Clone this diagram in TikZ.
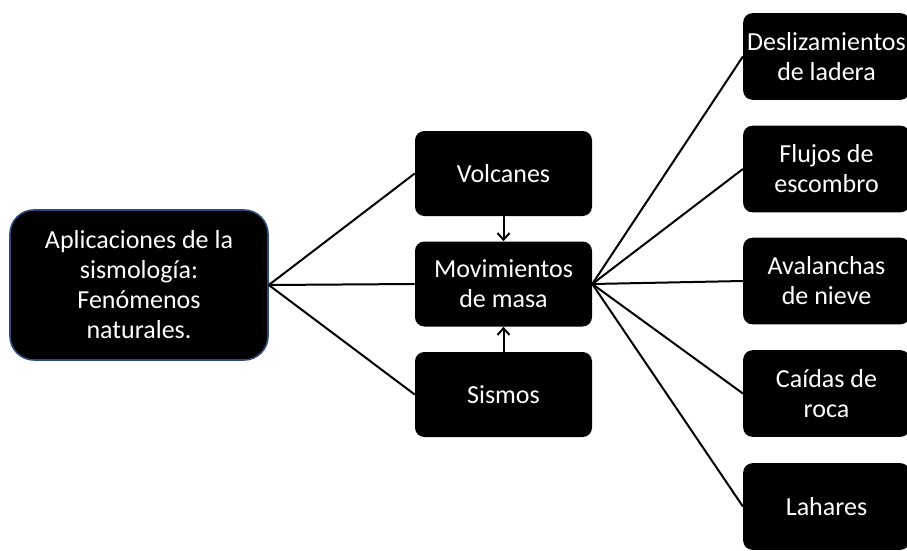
\documentclass[tikz,border=0pt]{standalone}
\usepackage{fontspec}
\setmainfont{Carlito}
\usepackage{xcolor}
\usetikzlibrary{arrows.meta}

\definecolor{bordeazul}{RGB}{47,74,122}

\begin{document}
\begin{tikzpicture}[x=0.75pt,y=-0.75pt]

\useasboundingbox (0,0) rectangle (907,550);
\clip (0,0) rectangle (907,550);

\tikzset{
    caja/.style = {
    fill=black,
    text=white,
    align=center,
    inner sep=0pt,
    rounded corners=7pt,
    font=\fontsize{19.5}{22.5}\selectfont
    }
}

\tikzstyle{principal}=[caja, draw=bordeazul, line width=1.2pt, rounded corners=18pt, minimum width=193.5pt, minimum height=112.5pt]
\tikzstyle{medio}=[caja, minimum width=132.75pt, minimum height=63.75pt]
\tikzstyle{tipo}=[caja, minimum width=125pt, minimum height=65pt]
\tikzstyle{linea}=[line width=1.5pt]

\node (apl) [principal] at (139,285) {Aplicaciones de la\\sismología:\\Fenómenos\\naturales.};

\node (volc) [medio] at (503.5,173.5) {Volcanes};
\node (mov) [medio] at (503.5,284) {Movimientos\\de masa};
\node (sis) [medio] at (503.5,394.5) {Sismos};

\node (r-1) [tipo] at (826.5,56.5) {Deslizamientos\\de ladera};
\node (r-2) [tipo] at (826.5,169) {Flujos de\\escombro};
\node (r-3) [tipo] at (826.5,281) {Avalanchas\\de nieve};
\node (r-4) [tipo] at (826.5,393.5) {Caídas de\\roca};
\node (r-5) [tipo] at (826.5,506.5) {Lahares};

\foreach \n in {volc,mov,sis}{
    \draw[linea] (apl.east)--(\n.west);
}

\foreach \i in {1,...,5}{
    \draw[linea] (mov.east)--(r-\i.west);
}

\draw[linea, -{Straight Barb[length=5pt,width=9pt]}] (volc.south)--(mov.north);
\draw[linea, -{Straight Barb[length=5pt,width=9pt]}] (sis.north)--(mov.south);

\end{tikzpicture}
\end{document}
